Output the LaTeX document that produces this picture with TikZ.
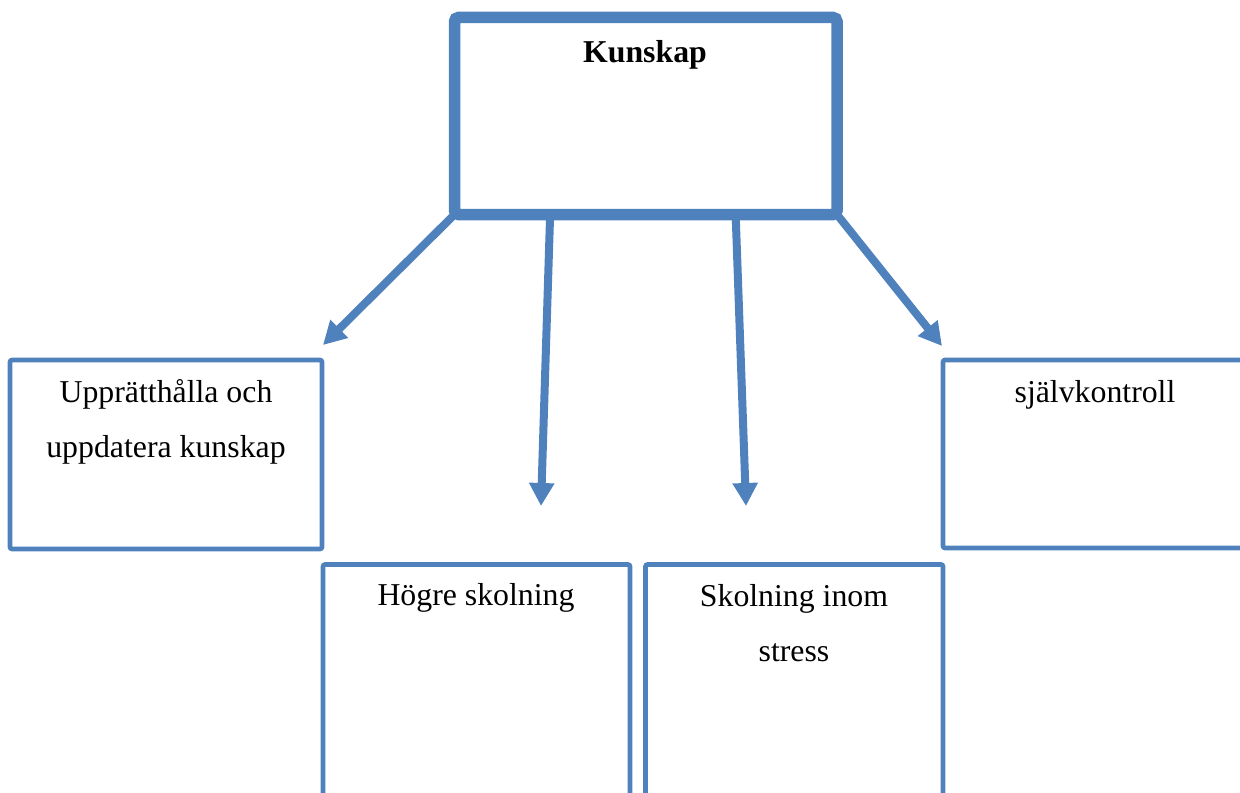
\documentclass[tikz,border=0pt]{standalone}
\usepackage{fontspec}
\setmainfont{Liberation Serif}
\usetikzlibrary{arrows.meta,calc}
\definecolor{boxblue}{HTML}{4F81BD}
\tikzset{
  box/.style={draw=boxblue, line width=2.3pt, rounded corners=1pt, outer sep=0pt, inner sep=0pt},
  mainbox/.style={box, line width=5.75pt, rounded corners=2pt},
  lbl/.style={font=\fontsize{15.9}{27.5}\selectfont, align=center, inner sep=0pt, anchor=base},
  arr/.style={draw=boxblue, line width=4pt, -{Triangle[length=11.5pt,width=12pt]}}
}
\begin{document}
\begin{tikzpicture}[x=0.5pt, y=-0.5pt]
  \useasboundingbox (0,0) rectangle (1240,792);
  \clip (0,0) rectangle (1240,792);

  % boxes
  \node[mainbox, minimum width=191.25pt, minimum height=98.5pt] (top) at (645.75,116) {};
  \node[box, minimum width=156pt, minimum height=94.5pt] (left) at (166,454.5) {};
  \node[box, minimum width=152pt, minimum height=94pt] (right) at (1095,454) {};
  \node[box, minimum width=153.5pt, minimum height=120pt] (hogre) at (476.5,684.5) {};
  \node[box, minimum width=148.75pt, minimum height=120pt] (stress) at (794.25,684.5) {};

  % labels (base anchor sits on the last line's baseline)
  \node[lbl, font=\fontsize{15.9}{27.5}\selectfont\bfseries] (tk) at (645,63) {Kunskap};
  \node[lbl] (tl) at (166,457) {Upprätthålla och\\uppdatera kunskap};
  \node[lbl] (tr) at (1095,402) {självkontroll};
  \node[lbl] (th) at (476,605) {Högre skolning};
  \node[lbl] (ts) at (794,661) {Skolning inom\\stress};

  % arrow tips
  \coordinate (e1) at (323,345);
  \coordinate (e2) at (541,506);
  \coordinate (e3) at (746,506);
  \coordinate (e4) at (942,346);

  % connectors
  \draw[arr] (top.south west) -- (e1);
  \draw[arr] ($(top.south west)!0.25!(top.south east)$) -- (e2);
  \draw[arr] ($(top.south west)!0.735!(top.south east)$) -- (e3);
  \draw[arr] (top.south east) -- (e4);
\end{tikzpicture}
\end{document}
